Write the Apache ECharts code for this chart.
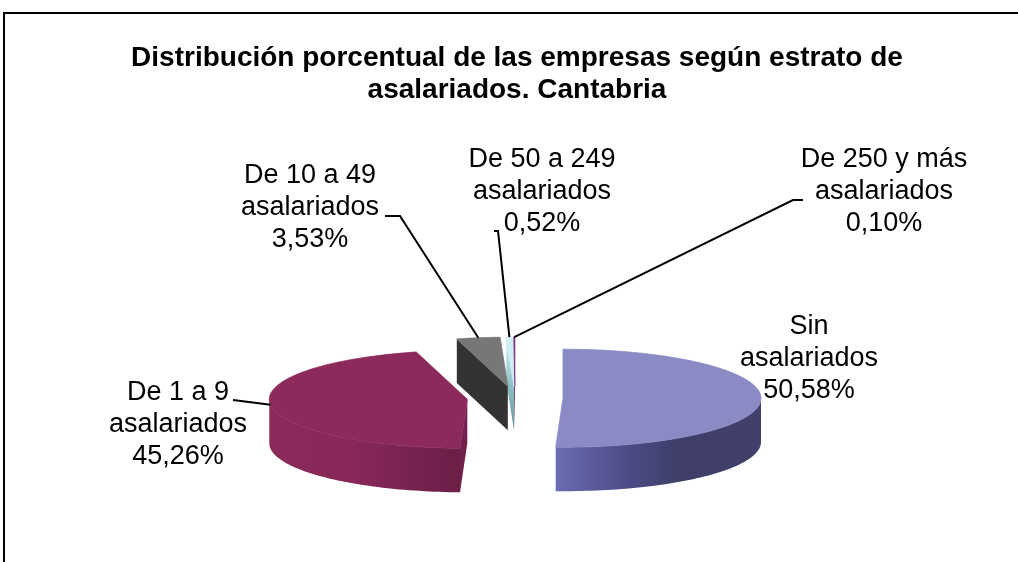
<!DOCTYPE html>
<html lang="es">
<head>
    <meta charset="UTF-8">
    <title>Empresas según estrato de asalariados. Cantabria</title>
    <style>
        html, body { margin: 0; padding: 0; background: #fff; }
    </style>
</head>
<body>
<div id="main" style="width:1018px;height:562px;"></div>
<script src="https://cdn.jsdelivr.net/npm/echarts@6/dist/echarts.min.js"></script>
<script>
    // datos
    var categories = ['Sin\nasalariados', 'De 1 a 9\nasalariados', 'De 10 a 49\nasalariados',
        'De 50 a 249\nasalariados', 'De 250 y más\nasalariados'];
    var values = [50.58, 45.26, 3.53, 0.52, 0.10];

    // estilo de cada porción: cara superior, pared exterior, cara de corte
    var topColors = ['#8a8ac4', '#8b2a5b', '#777777', '#cdeff3', '#7c2f7c'];
    var wallStops = [
        [[0, '#6b6bb3'], [0.35, '#4c4c86'], [0.6, '#3e3e69'], [1, '#40406b']],
        [[0, '#8b2a5b'], [0.45, '#872859'], [0.75, '#78224f'], [1, '#6c1f47']],
        [[0, '#404040'], [1, '#303030']],
        [[0, '#9fd0d6'], [1, '#7aa9b0']],
        [[0, '#5a1a5a'], [1, '#4a124a']]
    ];
    var cutColors = ['#5a5a9a', '#72214c', '#333333', null, '#6a2a6a'];

    // geometría de la tarta 3D
    var cx = 515, cy = 398, rx = 198, ry = 49, depth = 44, explode = 48;

    // posición de las etiquetas y codos de las líneas guía
    var labelPos = [
        {x: 809, y: 359, line: null},
        {x: 178, y: 425, line: [[233, 400]]},
        {x: 310, y: 208, line: [[400, 216], [385, 216]]},
        {x: 542, y: 192, line: [[498, 231], [494, 231]]},
        {x: 884, y: 192, line: [[793, 200], [803, 200]]}
    ];

    var total = values.reduce(function (a, b) { return a + b; }, 0);
    var starts = [];
    var acc = 0;
    values.forEach(function (v) { starts.push(acc); acc += v; });

    function fmt(v) {
        return v.toFixed(2).replace('.', ',') + '%';
    }

    function pt(ox, oy, deg, dz) {
        var r = deg * Math.PI / 180;
        return [ox + rx * Math.sin(r), oy - ry * Math.cos(r) + (dz || 0)];
    }

    function arc(ox, oy, a, b, dz) {
        var pts = [];
        var n = Math.max(2, Math.ceil((b - a) / 1.5));
        for (var k = 0; k <= n; k++) {
            pts.push(pt(ox, oy, a + (b - a) * k / n, dz));
        }
        return pts;
    }

    function renderItem(params, api) {
        var i = params.dataIndex;
        var a = api.value(1) / total * 360;
        var b = (api.value(1) + api.value(0)) / total * 360;
        var mid = (a + b) / 2 * Math.PI / 180;
        var ox = cx + explode * Math.sin(mid);
        var oy = cy - explode * Math.cos(mid) * ry / rx;
        var base = (values.length - i) * 10;
        var children = [];

        // pared exterior visible (parte delantera)
        var wa = Math.max(a, 90), wb = Math.min(b, 270);
        if (wb > wa) {
            var wall = arc(ox, oy, wa, wb, 0).concat(arc(ox, oy, wa, wb, depth).reverse());
            var grad = new echarts.graphic.LinearGradient(0, 0, 1, 0, wallStops[i].map(function (s) {
                return {offset: s[0], color: s[1]};
            }));
            children.push({
                type: 'polygon',
                shape: {points: wall},
                style: {fill: grad},
                z2: base + 1
            });
        }

        // cara de corte al inicio
        if (Math.sin(a * Math.PI / 180) < -1e-6) {
            var p1 = pt(ox, oy, a, 0), p2 = pt(ox, oy, a, depth);
            var fill = cutColors[i];
            if (!fill) {
                fill = new echarts.graphic.LinearGradient(0, 0, 1, 1, [
                    {offset: 0, color: '#d8f4f6'}, {offset: 0.5, color: '#8fc3ca'}, {offset: 1, color: '#5f8f96'}
                ]);
            }
            children.push({
                type: 'polygon',
                shape: {points: [[ox, oy], p1, p2, [ox, oy + depth]]},
                style: {fill: fill},
                z2: base + 2
            });
        }
        // cara de corte al final
        if (Math.sin(b * Math.PI / 180) > 1e-6) {
            var q1 = pt(ox, oy, b, 0), q2 = pt(ox, oy, b, depth);
            children.push({
                type: 'polygon',
                shape: {points: [[ox, oy], q1, q2, [ox, oy + depth]]},
                style: {fill: cutColors[i] || '#8fc3ca'},
                z2: base + 2
            });
        }

        // cara superior
        children.push({
            type: 'polygon',
            shape: {points: [[ox, oy]].concat(arc(ox, oy, a, b, 0))},
            style: {fill: topColors[i], stroke: topColors[i], lineWidth: 0.8},
            z2: base + 3
        });

        // etiqueta y línea guía
        var lp = labelPos[i];
        if (lp.line) {
            var rim = pt(ox, oy, (a + b) / 2, 0);
            children.push({
                type: 'polyline',
                shape: {points: [rim].concat(lp.line)},
                style: {stroke: '#000', lineWidth: 2, fill: null},
                z2: 200
            });
        }
        children.push({
            type: 'text',
            x: lp.x,
            y: lp.y,
            style: {
                text: categories[i] + '\n' + fmt(api.value(0)),
                fill: '#000',
                fontSize: 27,
                fontFamily: 'Liberation Sans, Arial, sans-serif',
                lineHeight: 32,
                align: 'center',
                verticalAlign: 'middle'
            },
            z2: 210
        });

        return {type: 'group', children: children};
    }

    var chart = echarts.init(document.getElementById('main'));
    var option = {
        animation: false,
        backgroundColor: '#fff',
        title: {
            text: 'Distribución porcentual de las empresas según estrato de\nasalariados. Cantabria',
            left: 512,
            textAlign: 'center',
            top: 37,
            textStyle: {
                fontFamily: 'Liberation Sans, Arial, sans-serif',
                fontWeight: 'bold',
                fontSize: 28,
                lineHeight: 32,
                color: '#000'
            }
        },
        graphic: [{
            type: 'rect',
            shape: {x: 4, y: 13, width: 1100, height: 700},
            style: {fill: null, stroke: '#000', lineWidth: 2}
        }],
        series: [{
            type: 'custom',
            coordinateSystem: 'none',
            silent: true,
            renderItem: renderItem,
            data: values.map(function (v, i) {
                return {name: categories[i], value: [v, starts[i]]};
            })
        }]
    };
    chart.setOption(option);
</script>
</body>
</html>
